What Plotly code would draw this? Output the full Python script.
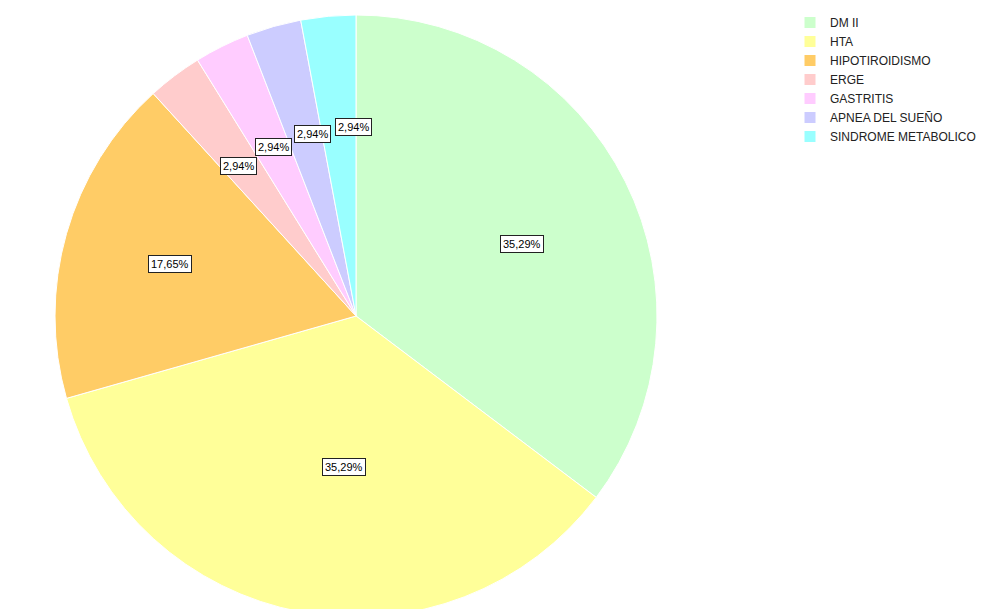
import math
import plotly.graph_objects as go

categories = ["DM II", "HTA", "HIPOTIROIDISMO", "ERGE", "GASTRITIS",
              "APNEA DEL SUEÑO", "SINDROME METABOLICO"]
counts = [12, 12, 6, 1, 1, 1, 1]
colors = ["#ccffcc", "#ffff99", "#ffcc66", "#ffcccc", "#ffccff", "#ccccff", "#99ffff"]
label_radius = [0.54, 0.54, 0.63, 0.66, 0.66, 0.66, 0.66]

W, H = 999, 609
OFF = 8          # page body margin
R = 301
cx, cy = 356 - OFF, 316 - OFF  # pixel center in figure coords (from top)
XSTRETCH = 342 / 300           # label spread, as in the reference

fig = go.Figure(go.Pie(
    labels=categories,
    values=counts,
    sort=False,
    direction="clockwise",
    rotation=0,
    marker=dict(colors=colors, line=dict(color="white", width=1)),
    textinfo="none",
    domain=dict(x=[(cx - R) / W, (cx + R) / W],
                y=[max(0, (H - cy - R) / H), min(1, (H - cy + R) / H)]),
    hovertemplate="%{label}: %{percent}<extra></extra>",
))

total = sum(counts)
cum = 0
for v, rf in zip(counts, label_radius):
    ang = math.radians((cum + v / 2) / total * 360)
    cum += v
    px = cx + rf * R * XSTRETCH * math.sin(ang)
    py = cy - rf * R * math.cos(ang)
    txt = f"{v / total * 100:.2f}".replace(".", ",") + "%"
    fig.add_annotation(
        x=px / W, y=1 - py / H, xref="paper", yref="paper",
        text=txt, showarrow=False,
        font=dict(family="Liberation Sans, Arial", size=11, color="black"),
        bgcolor="white", bordercolor="#222", borderwidth=1, borderpad=2,
    )

fig.update_layout(
    width=W, height=H,
    margin=dict(l=0, r=0, t=0, b=0),
    paper_bgcolor="white",
    plot_bgcolor="white",
    showlegend=True,
    legend=dict(
        x=782 / W, y=1, xanchor="left", yanchor="top",
        font=dict(family="Liberation Sans, Arial", size=12, color="#222"),
        itemwidth=30, bgcolor="rgba(0,0,0,0)",
    ),
)

fig.write_html("out.html")
